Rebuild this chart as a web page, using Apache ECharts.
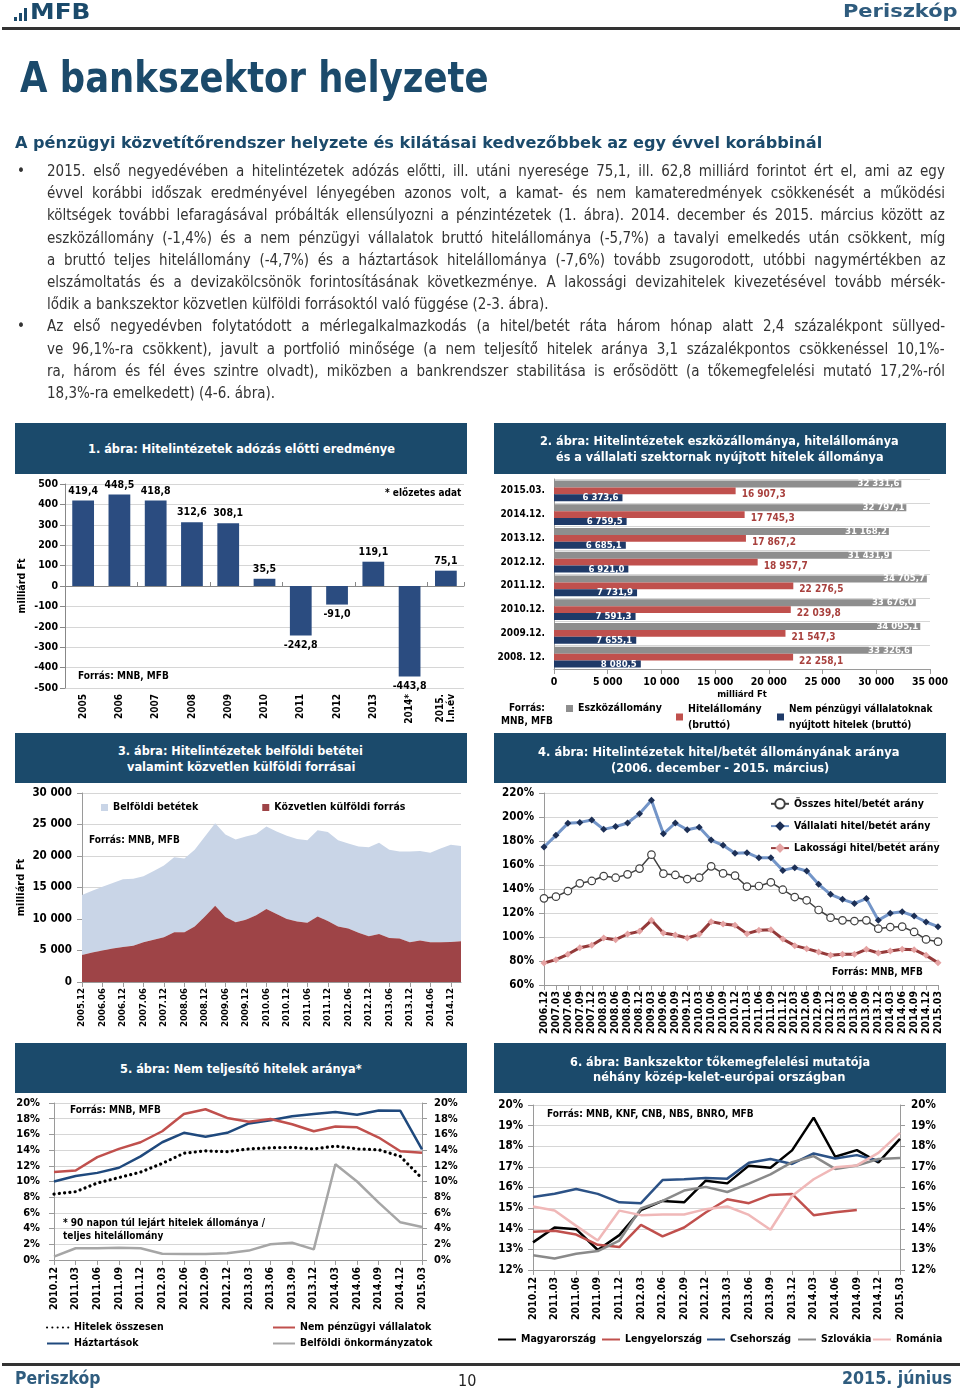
<!DOCTYPE html>
<html><head><meta charset="utf-8">
<script src="https://cdn.jsdelivr.net/npm/echarts@6/dist/echarts.min.js"></script>
<style>
html,body{margin:0;padding:0;background:#fff;}
body{width:960px;height:1395px;position:relative;overflow:hidden;}
#chart{position:absolute;left:0;top:0;width:960px;height:1395px;z-index:1;}
.abs{position:absolute;white-space:nowrap;z-index:3;}
.box{position:absolute;z-index:2;}
</style></head>
<body>
<div id="chart"></div>
<script>
// ---------------- DATA ----------------
const cat1 = ['2005','2006','2007','2008','2009','2010','2011','2012','2013','2014*','2015.\nI.n.év'];
const profit1 = [419.4, 448.5, 418.8, 312.6, 308.1, 35.5, -242.8, -91.0, 119.1, -443.8, 75.1];

const cat2 = ['2015.03.','2014.12.','2013.12.','2012.12.','2011.12.','2010.12.','2009.12.','2008. 12.'];
const assets2 = [32331.6, 32797.1, 31168.2, 31431.9, 34705.7, 33676.0, 34095.1, 33326.6];
const loans2 = [16907.3, 17745.3, 17867.2, 18957.7, 22276.5, 22039.8, 21547.3, 22258.1];
const corpLoans2 = [6373.6, 6759.5, 6685.1, 6921.0, 7731.9, 7591.3, 7655.1, 8080.5];

const dates3 = ['2005.12','2006.03','2006.06','2006.09','2006.12','2007.03','2007.06','2007.09','2007.12','2008.03','2008.06','2008.09','2008.12','2009.03','2009.06','2009.09','2009.12','2010.03','2010.06','2010.09','2010.12','2011.03','2011.06','2011.09','2011.12','2012.03','2012.06','2012.09','2012.12','2013.03','2013.06','2013.09','2013.12','2014.03','2014.06','2014.09','2014.12','2015.03'];
const deposits3 = [9500,9800,10100,10400,10750,10650,10500,10900,11400,11900,11700,12200,12700,13100,13100,13100,13200,12900,13100,13100,13200,13100,13100,13700,14100,13700,13500,13700,14150,14500,14000,13800,14400,14200,14200,14900,15450,15150];
const foreign3 = [4300,4700,5000,5300,5550,5750,6300,6700,7100,7900,7900,8800,10400,12100,10300,9500,9900,10600,11600,10800,10000,9600,9400,10400,9700,8800,8500,7800,7250,7600,7000,6900,6300,6600,6300,6300,6350,6450];

const dates4 = ['2006.12','2007.03','2007.06','2007.09','2007.12','2008.03','2008.06','2008.09','2008.12','2009.03','2009.06','2009.09','2009.12','2010.03','2010.06','2010.09','2010.12','2011.03','2011.06','2011.09','2011.12','2012.03','2012.06','2012.09','2012.12','2013.03','2013.06','2013.09','2013.12','2014.03','2014.06','2014.09','2014.12','2015.03'];
const total4 = [132.2,133.6,138.3,144.7,146.7,150.8,149.4,152.2,157.0,168.6,152.8,151.7,148.3,149.4,158.9,153.0,151.1,142.0,142.5,145.6,139.4,133.3,130.6,122.5,116.1,113.9,113.3,113.9,106.9,108.3,108.6,104.2,98.0,96.1];
const corp4 = [175.0,184.7,194.7,195.5,197.5,189.7,192.0,195.0,202.8,214.0,186.0,195.0,189.4,191.4,180.8,176.4,169.7,170.3,166.0,166.0,155.5,157.8,155.0,143.9,135.6,131.4,128.0,132.0,113.9,119.7,121.0,117.5,112.5,108.6];
const household4 = [78.3,81.1,85.6,91.1,93.1,99.2,97.8,102.5,104.7,113.9,103.3,101.7,99.2,102.2,112.8,110.8,109.7,102.8,105.6,106.1,98.3,92.8,90.3,87.5,84.7,85.6,85.6,89.7,86.7,88.3,89.7,89.4,84.7,78.6];

const dates5 = ['2010.12','2011.03','2011.06','2011.09','2011.12','2012.03','2012.06','2012.09','2012.12','2013.03','2013.06','2013.09','2013.12','2014.03','2014.06','2014.09','2014.12','2015.03'];
const npTotal5 = [8.4,8.7,9.8,10.5,11.2,12.3,13.6,13.9,13.8,14.15,14.3,14.35,14.15,14.5,14.15,14.05,13.2,10.4];
const npCorp5 = [11.2,11.4,13.1,14.15,15.0,16.4,18.6,19.2,18.1,17.6,17.97,17.3,16.4,17.0,16.9,15.6,13.85,13.65];
const npHouse5 = [10.0,10.7,11.1,11.75,13.2,15.0,16.2,15.7,16.2,17.4,17.8,18.3,18.6,18.85,18.5,19.05,19.0,14.1];
const npMuni5 = [0.42,1.5,1.5,1.57,1.5,0.8,0.76,0.76,0.85,1.2,2.0,2.2,1.36,12.2,10.0,7.3,4.8,4.2];

const dates6 = ['2010.12','2011.03','2011.06','2011.09','2011.12','2012.03','2012.06','2012.09','2012.12','2013.03','2013.06','2013.09','2013.12','2014.03','2014.06','2014.09','2014.12','2015.03'];
const hu6 = [13.34,14.06,13.98,12.97,13.69,14.9,15.35,15.28,16.33,16.2,17.06,16.96,17.8,19.39,17.49,17.81,17.22,18.36];
const pl6 = [13.85,13.9,13.72,13.22,13.11,14.19,13.63,14.06,14.79,15.43,15.24,15.64,15.69,14.66,14.8,14.91,null,null];
const cz6 = [15.54,15.7,15.93,15.69,15.28,15.24,16.36,16.4,16.46,16.43,17.2,17.38,17.14,17.65,17.41,17.57,17.3,null];
const sk6 = [12.71,12.56,12.79,12.92,13.43,14.98,15.35,15.85,16.03,15.78,16.19,16.64,17.23,17.52,16.9,17.07,17.38,17.43];
const ro6 = [15.08,14.88,14.14,13.43,14.88,14.66,14.69,14.69,14.95,15.08,14.67,13.95,15.59,16.4,16.98,17.07,17.68,18.65];

// ---------------- PAGE TEXT ----------------
const FF = '"DejaVu Sans Condensed","DejaVu Sans",sans-serif';
const NAVY = '#1B4A6B';
function T(txt, x, cy, size, o) {
  o = o || {};
  const d = document.createElement('div');
  d.className = 'abs';
  d.textContent = txt;
  d.style.font = (o.bold ? 'bold ' : '') + size + 'px ' + FF;
  d.style.lineHeight = (size * 1.2) + 'px';
  d.style.color = o.color || '#000';
  d.style.left = x + 'px';
  d.style.top = (cy - size * 0.6) + 'px';
  document.body.appendChild(d);
  if (o.w) {
    const nw = d.offsetWidth;
    d.style.transformOrigin = '0 50%';
    d.style.transform = 'scaleX(' + (o.w / nw) + ')';
  }
  return d;
}
function box(x, y, w, h, c) {
  const d = document.createElement('div');
  d.className = 'box';
  d.style.left = x + 'px'; d.style.top = y + 'px';
  d.style.width = w + 'px'; d.style.height = h + 'px';
  d.style.background = c;
  document.body.appendChild(d);
}
// logo
box(14, 17, 3, 4, NAVY); box(19, 13, 3, 8, NAVY); box(24, 8, 3, 13, NAVY);
T('MFB', 30, 12, 22, {bold: true, color: NAVY, w: 60});
T('Periszkóp', 843, 11, 18, {bold: true, color: '#2F5C7E', w: 114});
box(2, 27, 958, 3, '#333');
T('A bankszektor helyzete', 20, 78, 42, {bold: true, color: NAVY, w: 468});
T('A pénzügyi közvetítőrendszer helyzete és kilátásai kedvezőbbek az egy évvel korábbinál', 15, 143, 16, {bold: true, color: NAVY, w: 807});

const paraLines = [
 ['2015. első negyedévében a hitelintézetek adózás előtti, ill. utáni nyeresége 75,1, ill. 62,8 milliárd forintot ért el, ami az egy', true],
 ['évvel korábbi időszak eredményével lényegében azonos volt, a kamat- és nem kamateredmények csökkenését a működési', true],
 ['költségek további lefaragásával próbálták ellensúlyozni a pénzintézetek (1. ábra). 2014. december és 2015. március között az', true],
 ['eszközállomány (-1,4%) és a nem pénzügyi vállalatok bruttó hitelállománya (-5,7%) a tavalyi emelkedés után csökkent, míg', true],
 ['a bruttó teljes hitelállomány (-4,7%) és a háztartások hitelállománya (-7,6%) tovább zsugorodott, utóbbi nagymértékben az', true],
 ['elszámoltatás és a devizakölcsönök forintosításának következménye. A lakossági devizahitelek kivezetésével tovább mérsék-', true],
 ['lődik a bankszektor közvetlen külföldi forrásoktól való függése (2-3. ábra).', false],
 ['Az első negyedévben folytatódott a mérlegalkalmazkodás (a hitel/betét ráta három hónap alatt 2,4 százalékpont süllyed-', true],
 ['ve 96,1%-ra csökkent), javult a portfolió minősége (a nem teljesítő hitelek aránya 3,1 százalékpontos csökkenéssel 10,1%-', true],
 ['ra, három és fél éves szintre olvadt), miközben a bankrendszer stabilitása is erősödött (a tőkemegfelelési mutató 17,2%-ról', true],
 ['18,3%-ra emelkedett) (4-6. ábra).', false]
];
const PW = 898;
const els = paraLines.map((l, i) => T(l[0], 47, 171 + 22.2 * i, 15, {color: '#333'}));
let maxW = 0;
els.forEach((e, i) => { if (paraLines[i][1]) maxW = Math.max(maxW, e.offsetWidth); });
const sc = Math.min(1, PW / maxW);
els.forEach((e, i) => {
  if (paraLines[i][1]) {
    const n = (paraLines[i][0].match(/ /g) || []).length;
    const extra = (PW / sc - e.offsetWidth) / n;
    e.style.wordSpacing = extra + 'px';
  }
  e.style.transformOrigin = '0 50%';
  e.style.transform = 'scaleX(' + sc + ')';
});
T('•', 17, 171, 15, {color: '#333'});
T('•', 17, 326.4, 15, {color: '#333'});

// panel headers
box(15, 423, 452, 51, NAVY); box(494, 423, 452, 51, NAVY);
box(15, 733, 452, 50, NAVY); box(494, 733, 452, 50, NAVY);
box(15, 1043, 452, 50, NAVY); box(494, 1043, 452, 50, NAVY);
const W = {bold: true, color: '#fff'};
T('1. ábra: Hitelintézetek  adózás előtti eredménye', 88, 449, 13, Object.assign({w: 307}, W));
T('2. ábra: Hitelintézetek eszközállománya, hitelállománya', 540, 441, 13, Object.assign({w: 359}, W));
T('és a vállalati szektornak nyújtott hitelek állománya', 556, 457, 13, Object.assign({w: 328}, W));
T('3. ábra: Hitelintézetek belföldi betétei', 118, 751, 13, Object.assign({w: 245}, W));
T('valamint közvetlen külföldi forrásai', 127, 767, 13, Object.assign({w: 228}, W));
T('4. ábra: Hitelintézetek  hitel/betét állományának aránya', 538, 752, 13, Object.assign({w: 362}, W));
T('(2006. december - 2015. március)', 611, 768, 13, Object.assign({w: 218}, W));
T('5. ábra: Nem teljesítő hitelek aránya*', 120, 1069, 13, Object.assign({w: 242}, W));
T('6. ábra: Bankszektor tőkemegfelelési mutatója', 570, 1062, 13, Object.assign({w: 300}, W));
T('néhány közép-kelet-európai országban', 593, 1077, 13, Object.assign({w: 253}, W));

// footer
box(2, 1363, 958, 3, '#333');
T('Periszkóp', 15, 1378, 17, {bold: true, color: '#2F5C7E', w: 86});
T('10', 458, 1381, 16, {color: '#222'});
T('2015. június', 842, 1378, 17, {bold: true, color: '#2F5C7E', w: 110});

// ---------------- CHARTS ----------------
const FE = 'DejaVu Sans Condensed';
const LB = (size, extra) => Object.assign({fontFamily: FE, fontWeight: 'bold', fontSize: size, color: '#000'}, extra || {});
const AX = '#9A9A9A', GR = '#D6D6D6';
function fmtNum(v, dec) {
  const s = Number(v).toFixed(dec).split('.');
  const i = s[0].replace(/\B(?=(\d{3})+(?!\d))/g, ' ');
  return dec ? i + ',' + s[1] : i;
}
function gtext(x, y, txt, size, extra) {
  return Object.assign({type: 'text', x: x, y: y, z: 50,
    style: Object.assign({text: txt, fill: '#000', font: 'bold ' + size + 'px "' + FE + '"'}, extra || {})});
}
// legend helper: single-item legend at explicit position, line icon without symbol
function lineLeg(name, left, top, iw) {
  return {data: [name], left: left, top: top, padding: 0, itemWidth: iw || 22, itemHeight: 10,
          itemStyle: {opacity: 0}, textStyle: LB(10.5)};
}

const chart = echarts.init(document.getElementById('chart'));
const pct = v => v + '%';
const option = {
  animation: false,
  backgroundColor: 'transparent',
  grid: [
    {left: 65, top: 484, width: 399, height: 204},
    {left: 554, top: 479, width: 376, height: 190},
    {left: 82, top: 793, width: 379, height: 189},
    {left: 544, top: 793, width: 394, height: 192},
    {left: 54, top: 1103, width: 368, height: 157},
    {left: 533, top: 1105, width: 367, height: 165}
  ],
  xAxis: [
    {gridIndex: 0, type: 'category', data: cat1, axisLine: {show: false, onZero: false}, axisTick: {show: false},
     axisLabel: LB(10, {rotate: 90, margin: 6, interval: 0, lineHeight: 11})},
    {gridIndex: 0, type: 'category', data: cat1, axisLine: {onZero: true, onZeroAxisIndex: 0, lineStyle: {color: '#888'}},
     axisTick: {show: true, length: 4, lineStyle: {color: '#888'}}, axisLabel: {show: false}},
    {gridIndex: 1, type: 'value', min: 0, max: 35000, interval: 5000, axisLine: {show: true, lineStyle: {color: AX}},
     axisTick: {show: true, lineStyle: {color: AX}}, splitLine: {show: false},
     axisLabel: LB(10.5, {formatter: v => fmtNum(v, 0), margin: 8}),
     name: 'milliárd Ft', nameLocation: 'middle', nameGap: 21, nameTextStyle: LB(9.5)},
    {gridIndex: 2, type: 'category', data: dates3, boundaryGap: false, axisLine: {lineStyle: {color: AX}},
     axisTick: {interval: 1, lineStyle: {color: AX}}, axisLabel: LB(9.5, {rotate: 90, interval: 1, margin: 6})},
    {gridIndex: 3, type: 'category', data: dates4, boundaryGap: false, axisLine: {lineStyle: {color: AX}},
     axisTick: {lineStyle: {color: AX}}, axisLabel: LB(10.5, {rotate: 90, interval: 0, margin: 6})},
    {gridIndex: 4, type: 'category', data: dates5, boundaryGap: false, axisLine: {lineStyle: {color: AX}},
     axisTick: {lineStyle: {color: AX}}, axisLabel: LB(10.5, {rotate: 90, interval: 0, margin: 7})},
    {gridIndex: 5, type: 'category', data: dates6, boundaryGap: false, axisLine: {lineStyle: {color: AX}},
     axisTick: {lineStyle: {color: AX}}, axisLabel: LB(10.5, {rotate: 90, interval: 0, margin: 7})}
  ],
  yAxis: [
    {gridIndex: 0, type: 'value', min: -500, max: 500, interval: 100, axisLine: {show: true, lineStyle: {color: '#888'}},
     axisTick: {show: true, lineStyle: {color: '#888'}}, splitLine: {lineStyle: {color: GR}},
     axisLabel: LB(10.5, {margin: 7}), name: 'milliárd Ft', nameLocation: 'middle', nameGap: 37, nameRotate: 90, nameTextStyle: LB(10.5)},
    {gridIndex: 1, type: 'category', data: cat2, inverse: true, axisLine: {lineStyle: {color: AX}}, axisTick: {show: false},
     splitLine: {show: true, lineStyle: {color: GR}}, axisLabel: LB(10, {margin: 9})},
    {gridIndex: 2, type: 'value', min: 0, max: 30000, interval: 5000, axisLine: {show: true, lineStyle: {color: AX}},
     axisTick: {show: true, lineStyle: {color: AX}}, splitLine: {lineStyle: {color: GR}},
     axisLabel: LB(11.5, {formatter: v => fmtNum(v, 0), margin: 10}),
     name: 'milliárd Ft', nameLocation: 'middle', nameGap: 55, nameRotate: 90, nameTextStyle: LB(11)},
    {gridIndex: 3, type: 'value', min: 60, max: 220, interval: 20, axisLine: {show: true, lineStyle: {color: AX}},
     axisTick: {show: true, lineStyle: {color: AX}}, splitLine: {lineStyle: {color: GR}}, axisLabel: LB(11.5, {formatter: pct, margin: 10})},
    {gridIndex: 4, type: 'value', min: 0, max: 20, interval: 2, axisLine: {show: true, lineStyle: {color: AX}},
     axisTick: {show: true, lineStyle: {color: AX}}, splitLine: {lineStyle: {color: GR}}, axisLabel: LB(11, {formatter: pct, margin: 14})},
    {gridIndex: 4, type: 'value', position: 'right', min: 0, max: 20, interval: 2, axisLine: {show: true, lineStyle: {color: AX}},
     axisTick: {show: true, lineStyle: {color: AX}}, splitLine: {show: false}, axisLabel: LB(11, {formatter: pct, margin: 12})},
    {gridIndex: 5, type: 'value', min: 12, max: 20, interval: 1, axisLine: {show: true, lineStyle: {color: AX}},
     axisTick: {show: true, lineStyle: {color: AX}}, splitLine: {lineStyle: {color: GR}}, axisLabel: LB(11.5, {formatter: pct, margin: 10})},
    {gridIndex: 5, type: 'value', position: 'right', min: 12, max: 20, interval: 1, axisLine: {show: true, lineStyle: {color: AX}},
     axisTick: {show: true, lineStyle: {color: AX}}, splitLine: {show: false}, axisLabel: LB(11.5, {formatter: pct, margin: 11})}
  ],
  legend: [
    {data: ['Belföldi betétek', 'Közvetlen külföldi forrás'], left: 101, top: 802, padding: 0, itemGap: 64, icon: 'rect', itemWidth: 7, itemHeight: 7, textStyle: LB(10.5)},
    {data: ['Összes hitel/betét arány', 'Vállalati hitel/betét arány', 'Lakossági hitel/betét arány'], orient: 'vertical', left: 770, top: 798, padding: 0, itemGap: 11, itemWidth: 18, itemHeight: 12, textStyle: LB(10.5)},
    lineLeg('Hitelek összesen', 46, 1322),
    lineLeg('Nem pénzügyi vállalatok', 272, 1322),
    lineLeg('Háztartások', 46, 1338),
    lineLeg('Belföldi önkormányzatok', 272, 1338),
    {data: ['Eszközállomány'], left: 566, top: 703, padding: 0, icon: 'rect', itemWidth: 7, itemHeight: 7, textStyle: LB(10.5)},
    {data: ['Hitelállomány\n(bruttó)'], left: 676, top: 701, padding: 0, icon: 'rect', itemWidth: 7, itemHeight: 7, textStyle: LB(10.5, {lineHeight: 16})},
    {data: ['Nem pénzügyi vállalatoknak\nnyújtott hitelek (bruttó)'], left: 777, top: 701, padding: 0, icon: 'rect', itemWidth: 7, itemHeight: 7, textStyle: LB(10, {lineHeight: 16})},
    lineLeg('Magyarország', 497, 1334, 18),
    lineLeg('Lengyelország', 601, 1334, 18),
    lineLeg('Csehország', 706, 1334, 18),
    lineLeg('Szlovákia', 797, 1334, 18),
    lineLeg('Románia', 872, 1334, 18)
  ],
  graphic: [
    gtext(385, 488, '* előzetes adat', 10),
    gtext(78, 671, 'Forrás: MNB, MFB', 10),
    gtext(527, 702, 'Forrás:\nMNB, MFB', 10, {align: 'center', lineHeight: 13}),
    gtext(89, 835, 'Forrás: MNB, MFB', 10),
    gtext(832, 967, 'Forrás: MNB, MFB', 10),
    gtext(70, 1105, 'Forrás: MNB, MFB', 10),
    gtext(63, 1217, '* 90 napon túl lejárt hitelek állománya /\nteljes hitelállomány', 10, {lineHeight: 13}),
    gtext(547, 1109, 'Forrás: MNB, KNF, CNB, NBS, BNRO, MFB', 10)
  ],
  series: [
    {type: 'bar', name: 'Adózás előtti eredmény', xAxisIndex: 0, yAxisIndex: 0, barWidth: '60%',
     itemStyle: {color: '#2B4C80'},
     data: profit1.map(v => ({value: v, label: {position: v >= 0 ? 'top' : 'bottom'}})),
     label: {show: true, formatter: p => Number(p.value).toFixed(1).replace('.', ','), fontFamily: FE, fontWeight: 'bold', fontSize: 10.5, color: '#000', distance: 4}},
    {type: 'bar', name: 'Eszközállomány', xAxisIndex: 2, yAxisIndex: 1, data: assets2, barGap: '0%', barCategoryGap: '12%',
     itemStyle: {color: '#8E8E8E'},
     label: {show: true, position: 'insideRight', distance: 2, formatter: p => fmtNum(p.value, 1), fontFamily: FE, fontWeight: 'bold', fontSize: 9.5, color: '#fff'}},
    {type: 'bar', name: 'Hitelállomány\n(bruttó)', xAxisIndex: 2, yAxisIndex: 1, data: loans2, barGap: '0%', barCategoryGap: '12%',
     itemStyle: {color: '#C0504D'},
     label: {show: true, position: 'right', distance: 6, offset: [0, 4], formatter: p => fmtNum(p.value, 1), fontFamily: FE, fontWeight: 'bold', fontSize: 10, color: '#A8403D'}},
    {type: 'bar', name: 'Nem pénzügyi vállalatoknak\nnyújtott hitelek (bruttó)', xAxisIndex: 2, yAxisIndex: 1, data: corpLoans2, barGap: '0%', barCategoryGap: '12%',
     itemStyle: {color: '#1F3A68'},
     label: {show: true, position: 'insideRight', distance: 4, formatter: p => fmtNum(p.value, 1), fontFamily: FE, fontWeight: 'bold', fontSize: 9.5, color: '#fff'}},
    {type: 'line', name: 'Közvetlen külföldi forrás', xAxisIndex: 3, yAxisIndex: 2, stack: 'src', data: foreign3,
     color: '#9E4447', showSymbol: false, symbol: 'none', lineStyle: {width: 0}, areaStyle: {color: '#9E4447', opacity: 1}},
    {type: 'line', name: 'Belföldi betétek', xAxisIndex: 3, yAxisIndex: 2, stack: 'src', data: deposits3,
     color: '#C9D5E7', showSymbol: false, symbol: 'none', lineStyle: {width: 0}, areaStyle: {color: '#C9D5E7', opacity: 1}, z: 1},
    {type: 'line', name: 'Lakossági hitel/betét arány', xAxisIndex: 4, yAxisIndex: 3, data: household4,
     symbol: 'diamond', symbolSize: 7, lineStyle: {color: '#943A3A', width: 3}, itemStyle: {color: '#E5A3A3', borderWidth: 0}, color: '#943A3A'},
    {type: 'line', name: 'Vállalati hitel/betét arány', xAxisIndex: 4, yAxisIndex: 3, data: corp4,
     symbol: 'diamond', symbolSize: 7, lineStyle: {color: '#7395C8', width: 3}, itemStyle: {color: '#1C2F55', borderWidth: 0}, color: '#7395C8'},
    {type: 'line', name: 'Összes hitel/betét arány', xAxisIndex: 4, yAxisIndex: 3, data: total4,
     symbol: 'circle', symbolSize: 7.5, lineStyle: {color: '#404040', width: 1.5}, itemStyle: {color: '#fff', borderColor: '#404040', borderWidth: 1.2}, color: '#404040'},
    {type: 'line', name: 'Belföldi önkormányzatok', xAxisIndex: 5, yAxisIndex: 4, data: npMuni5, symbol: 'none',
     color: '#A6A6A6', lineStyle: {color: '#A6A6A6', width: 2.5}},
    {type: 'line', name: 'Háztartások', xAxisIndex: 5, yAxisIndex: 4, data: npHouse5, symbol: 'none',
     color: '#1F497D', lineStyle: {color: '#1F497D', width: 2.5}},
    {type: 'line', name: 'Nem pénzügyi vállalatok', xAxisIndex: 5, yAxisIndex: 4, data: npCorp5, symbol: 'none',
     color: '#C0504D', lineStyle: {color: '#C0504D', width: 2.5}},
    {type: 'line', name: 'Hitelek összesen', xAxisIndex: 5, yAxisIndex: 4, data: npTotal5, symbol: 'none',
     color: '#000', lineStyle: {color: '#000', width: 3.2, type: [0.1, 5.2], cap: 'round'}},
    {type: 'line', name: 'Magyarország', xAxisIndex: 6, yAxisIndex: 6, data: hu6, symbol: 'none', color: '#000', lineStyle: {color: '#000', width: 2.5}},
    {type: 'line', name: 'Lengyelország', xAxisIndex: 6, yAxisIndex: 6, data: pl6, symbol: 'none', color: '#C0504D', lineStyle: {color: '#C0504D', width: 2.5}},
    {type: 'line', name: 'Csehország', xAxisIndex: 6, yAxisIndex: 6, data: cz6, symbol: 'none', color: '#2C5286', lineStyle: {color: '#2C5286', width: 2.5}},
    {type: 'line', name: 'Szlovákia', xAxisIndex: 6, yAxisIndex: 6, data: sk6, symbol: 'none', color: '#8A8A8A', lineStyle: {color: '#8A8A8A', width: 2.5}},
    {type: 'line', name: 'Románia', xAxisIndex: 6, yAxisIndex: 6, data: ro6, symbol: 'none', color: '#F0B8B8', lineStyle: {color: '#F0B8B8', width: 2.5}}
  ]
};
chart.setOption(option);
</script>
</body></html>
